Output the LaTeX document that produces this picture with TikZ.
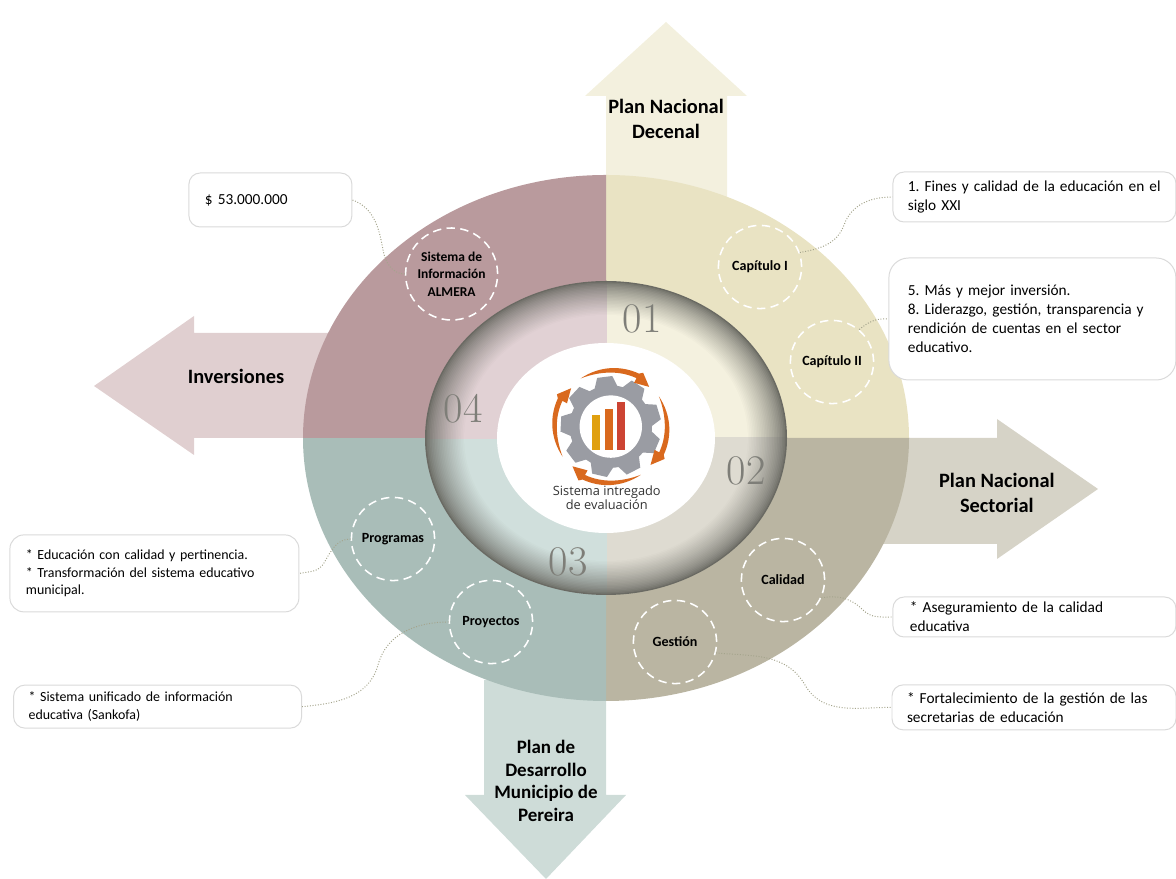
\documentclass[tikz,border=0pt]{standalone}
\usepackage{fontspec}
\setsansfont{Carlito}
\newfontfamily\logofont{Open Sans}
\usepackage{xcolor}
\usepackage{tikz}
\usetikzlibrary{calc,shapes.geometric}

\definecolor{quaduno}{HTML}{E9E3C3}
\definecolor{quaddos}{HTML}{BAB5A2}
\definecolor{quadtres}{HTML}{A9BDB8}
\definecolor{quadcuatro}{HTML}{B99A9D}
\definecolor{lightuno}{HTML}{F4F1DF}
\definecolor{lightdos}{HTML}{DEDBD1}
\definecolor{lighttres}{HTML}{D0DFDC}
\definecolor{lightcuatro}{HTML}{E1D1D4}
\definecolor{arrowuno}{HTML}{F3F0DE}
\definecolor{arrowdos}{HTML}{D6D3C7}
\definecolor{arrowtres}{HTML}{CEDCD8}
\definecolor{arrowcuatro}{HTML}{E0CFD0}
\definecolor{ringdark}{HTML}{6A6A63}
\definecolor{numgray}{HTML}{7E7E78}
\definecolor{boxgray}{HTML}{DADADA}
\definecolor{linkgray}{HTML}{A4A48C}
\definecolor{geargray}{HTML}{9A9CA3}
\definecolor{logoorange}{HTML}{D9691E}
\definecolor{baryellow}{HTML}{E0A010}
\definecolor{barred}{HTML}{CC4433}

\tikzset{
  infobox/.style={draw=boxgray, fill=white, line width=0.7pt, rounded corners=8pt, align=left, inner xsep=0pt, inner ysep=0pt, font=\sffamily\frenchspacing\fontsize{10.9}{13.5}\selectfont},
  smallbox/.style={infobox, font=\sffamily\frenchspacing\fontsize{9.9}{12.4}\selectfont},
  capcircle/.style={circle, draw=white, line width=1.1pt, dash pattern=on 6pt off 3.8pt, align=center, inner sep=0pt, minimum size=2.08cm, font=\sffamily\bfseries\fontsize{10}{12}\selectfont},
  arrowlabel/.style={align=center, inner sep=0pt, font=\sffamily\bfseries\fontsize{14.5}{17.5}\selectfont},
  ringnumber/.style={inner sep=0pt, text=numgray, font=\rmfamily\fontsize{30}{30}\selectfont},
  enlace/.style={draw=linkgray, line width=0.7pt, dash pattern=on 0.7pt off 1.2pt},
}

\begin{document}
\begin{tikzpicture}
\useasboundingbox (0,0) rectangle (29.4,21.975);

% Big arrows
\fill[arrowuno] (15.15,16.975) -- (15.15,19.575) -- (14.625,19.575) -- (16.65,21.425) -- (18.675,19.575) -- (18.175,19.575) -- (18.175,16.975) -- cycle;
\fill[arrowdos] (21.75,11.025) -- (24.925,11.025) -- (24.925,11.5) -- (27.45,9.75) -- (24.925,8.0) -- (24.925,8.375) -- (21.75,8.375) -- cycle;
\fill[arrowtres] (12.1,4.975) -- (12.1,2.1) -- (11.625,2.1) -- (13.65,0) -- (15.65,2.1) -- (15.15,2.1) -- (15.15,4.975) -- cycle;
\fill[arrowcuatro] (8.5,13.65) -- (4.85,13.65) -- (4.85,14.075) -- (2.35,12.325) -- (4.85,10.6) -- (4.85,11.025) -- (8.5,11.025) -- cycle;

% Quadrants and shaded ring
\foreach \a/\quadcol/\lightcol in {0/quaduno/lightuno, 270/quaddos/lightdos, 180/quadtres/lighttres, 90/quadcuatro/lightcuatro} {
    \fill[\quadcol] (15.15,11.025) -- ++(\a:{7.575*abs(cos(\a))+6.575*abs(sin(\a))}) arc[start angle=\a, delta angle=90, x radius=7.575, y radius=6.575] -- cycle;
    \begin{scope}
        \clip ($(15.15,11.025)+({\a+45}:-0.03)$) -- ++(\a:9) -- ++({\a+90}:9) -- ++({\a+180}:9) -- cycle;
        \foreach \s in {0,...,24} {
            \pgfmathsetmacro\ringmix{100*(\s/24)^0.7}
            \pgfmathsetmacro\ringk{1-0.009*\s}
            \fill[\lightcol!\ringmix!ringdark] (15.15,11.025) ellipse [x radius=4.525*\ringk, y radius=3.925*\ringk];
        }
    \end{scope}
}
\fill[white] (15.15,11.025) ellipse [x radius=2.725, y radius=2.375];

% Ring numbers
\node[ringnumber] (numuno) at (16.05,13.99) {01};
\node[ringnumber] (numdos) at (18.65,10.2) {02};
\node[ringnumber] (numtres) at (14.2,7.93) {03};
\node[ringnumber] (numcuatro) at (11.58,11.75) {04};

% Gear logo
\begin{scope}[shift={(15.27,11.31)}]
    \fill[geargray] (0,0) circle (1.03);
    \foreach \t in {97,57,...,-223} {
        \fill[geargray, rotate=\t] (0.95,-0.3) -- (1.25,-0.19) -- (1.25,0.19) -- (0.95,0.3) -- cycle;
    }
    \fill[white] (0,0) circle (0.78);
    \foreach \r in {0,-90,-180,-270} {
        \fill[logoorange, rotate=\r] (122:1.42) .. controls (100:1.55) and (80:1.55) .. (62:1.5) -- (59:1.57) -- (46:1.38) -- (62:1.24) -- (62:1.37) .. controls (80:1.42) and (100:1.42) .. cycle;
    }
\end{scope}
\fill[baryellow] (14.79,10.725) rectangle (15.0,11.6);
\fill[logoorange] (15.125,10.725) rectangle (15.335,11.75);
\fill[barred] (15.435,10.725) rectangle (15.635,11.93);
\node[inner sep=0pt, align=center, text=black!80, font=\logofont\fontsize{9.1}{8.4}\selectfont] (logotxt) at (15.17,9.525) {Sistema intregado\\de evaluación};

% Arrow labels
\node[arrowlabel] (decenal) at (16.65,19.0) {Plan Nacional\\Decenal};
\node[arrowlabel] (sectorial) at (24.92,9.65) {Plan Nacional\\Sectorial};
\node[arrowlabel, font=\sffamily\bfseries\fontsize{13.5}{16.2}\selectfont] (pereira) at (13.65,2.45) {Plan de\\Desarrollo\\Municipio de\\Pereira};
\node[arrowlabel] (inversiones) at (5.9,12.57) {Inversiones};

% Dashed circles
\node[capcircle] (capuno) at (19.0,15.3) {Capítulo I};
\node[capcircle] (capdos) at (20.8,12.925) {Capítulo II};
\node[capcircle, minimum size=2.3cm, font=\sffamily\bfseries\fontsize{9.6}{12.5}\selectfont] (sistema) at (11.29,15.125) {Sistema de\\Información\\ALMERA};
\node[capcircle] (programas) at (9.825,8.5) {Programas};
\node[capcircle] (proyectos) at (12.275,6.425) {Proyectos};
\node[capcircle] (calidad) at (19.575,7.475) {Calidad};
\node[capcircle] (gestion) at (16.875,5.925) {Gestión};

% Text boxes
\node[infobox, text width=3.275cm, minimum width=4.075cm, minimum height=1.35cm] (monto) at (6.76,16.975) {\$ 53.000.000};
\node[infobox, text width=6.325cm, minimum width=7.075cm, minimum height=1.25cm] (finesbox) at (25.86,17.05) {1. Fines y calidad de la educación en el\\siglo XXI};
\node[infobox, rounded corners=14pt, text width=6.225cm, minimum width=7.175cm, minimum height=3.05cm] (inversionbox) at (25.81,14.0) {5. Más y mejor inversión.\\8. Liderazgo, gestión, transparencia y\\rendición de cuentas en el sector\\educativo.};
\node[smallbox, rounded corners=10pt, text width=6.425cm, minimum width=7.225cm, minimum height=1.925cm] (progbox) at (3.86,7.64) {* Educación con calidad y pertinencia.\\{*} Transformación del sistema educativo\\municipal.};
\node[smallbox, text width=6.45cm, minimum width=7.2cm, minimum height=1.075cm] (proybox) at (3.94,4.31) {* Sistema unificado de información\\educativa (Sankofa)};
\node[infobox, text width=6.225cm, minimum width=7.075cm, minimum height=1.0cm] (calibox) at (25.86,6.55) {* Aseguramiento de la calidad\\educativa};
\node[infobox, text width=6.35cm, minimum width=7.1cm, minimum height=1.125cm] (gestbox) at (25.85,4.29) {* Fortalecimiento de la gestión de las\\secretarias de educación};

% Dotted links
\draw[enlace] (sistema.west) to[out=180, in=-80] (9.575,15.725) to[out=100, in=-20] (monto.east);
\draw[enlace] (capuno.20) to[out=10, in=-110] (21.1,16.35) to[out=70, in=180] (finesbox.west);
\draw[enlace] (capdos.50) to[out=40, in=175] (inversionbox.west);
\draw[enlace] (programas.west) to[out=180, in=60] (8.1,7.9) to[out=-120, in=10] (progbox.east);
\draw[enlace] (proyectos.west) to[out=180, in=75] (9.45,5.35) to[out=-105, in=5] (proybox.east);
\draw[enlace] (calidad.-25) to[out=10, in=135] (21.575,6.725) to[out=-45, in=180] (calibox.west);
\draw[enlace] (gestion.-15) to[out=-5, in=120] (20.125,4.85) to[out=-60, in=180] (gestbox.west);

\end{tikzpicture}
\end{document}
